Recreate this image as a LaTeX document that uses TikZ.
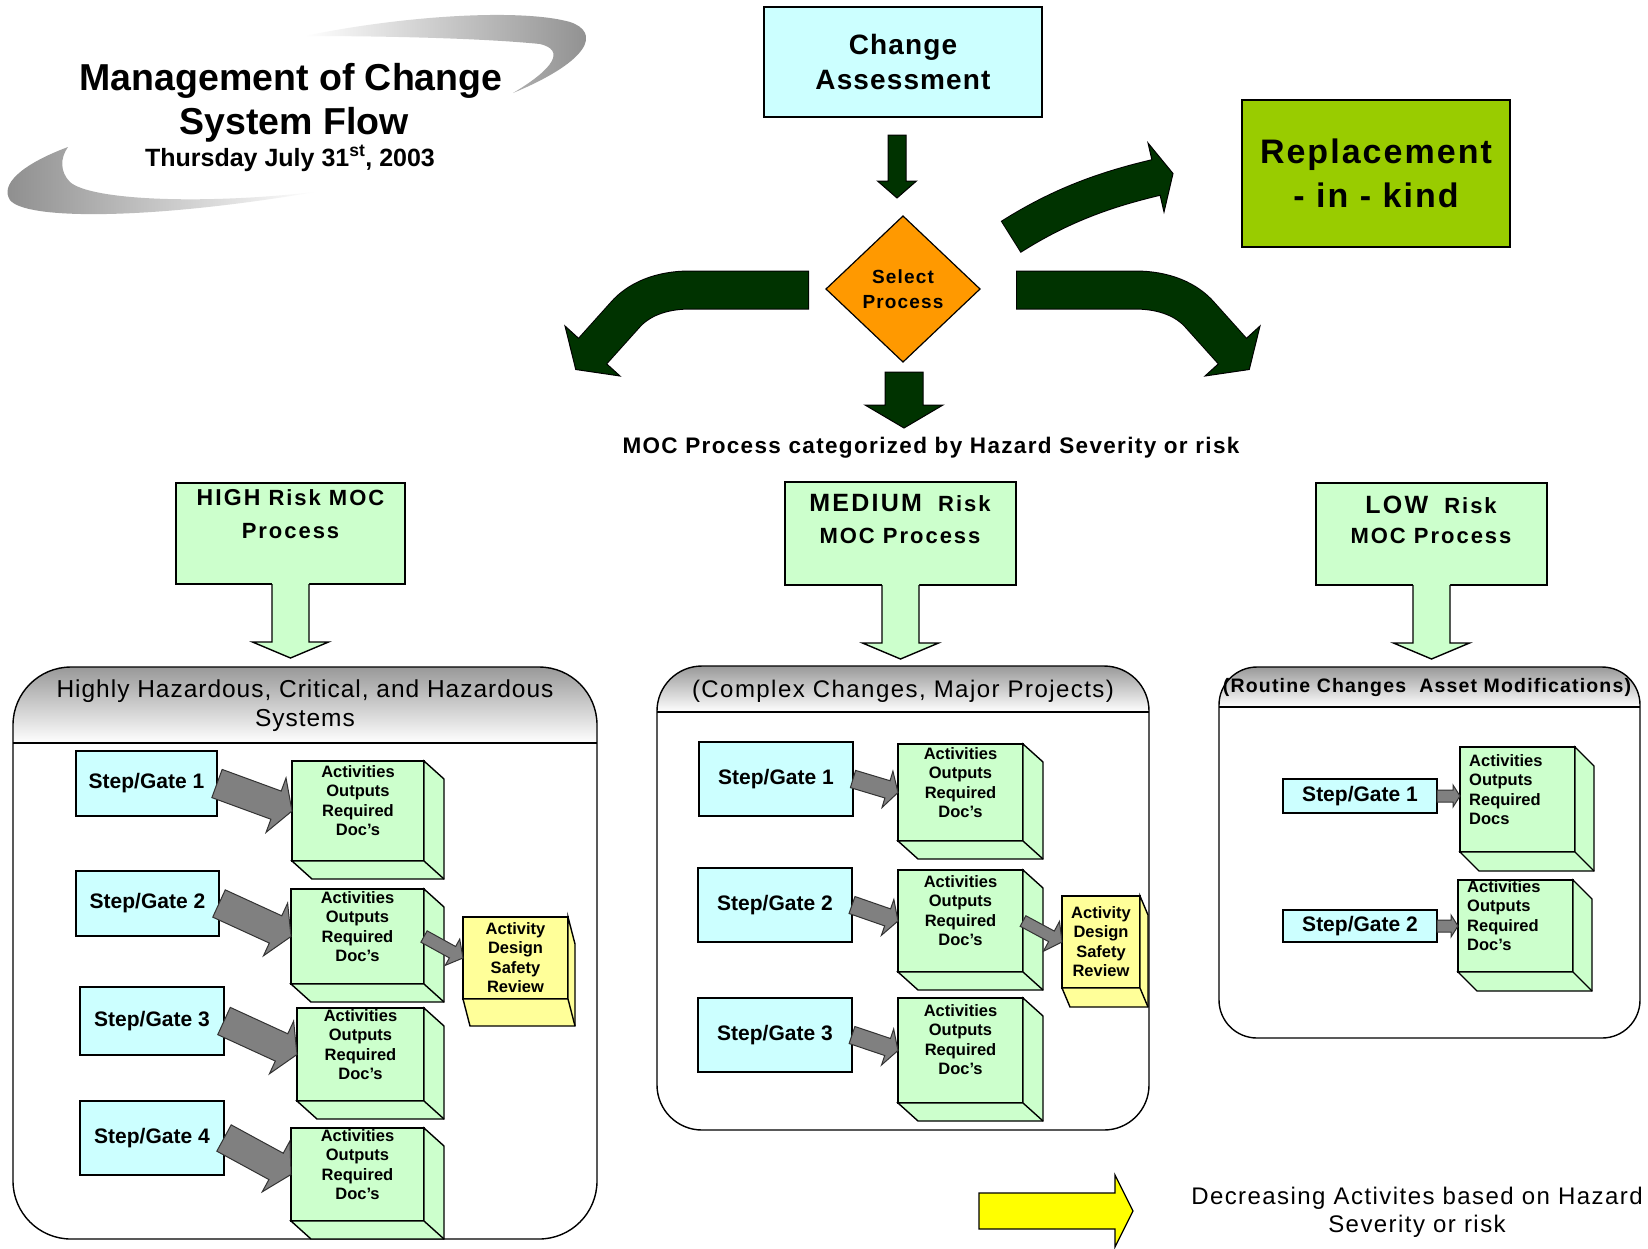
\documentclass[tikz,border=0pt]{standalone}
\usepackage{fontspec}
\setmainfont{Liberation Sans}
\newfontfamily\trkD{Liberation Sans}[LetterSpace=4]
\newfontfamily\trkA{Liberation Sans}[LetterSpace=6]
\newfontfamily\trkB{Liberation Sans}[LetterSpace=9]
\newfontfamily\trkC{Liberation Sans}[LetterSpace=12]
\usetikzlibrary{calc,shapes.geometric}
\definecolor{cyanbox}{HTML}{CCFFFF}
\definecolor{lgreen}{HTML}{CCFFCC}
\definecolor{lyellow}{HTML}{FFFF99}
\definecolor{selorange}{HTML}{FF9900}
\definecolor{rikgreen}{HTML}{99CC00}
\definecolor{dkgreen}{HTML}{003300}
\definecolor{arrgray}{HTML}{808080}
\definecolor{legyellow}{HTML}{FFFF00}
\newcommand\fs[2]{\fontsize{#1}{#2}\selectfont}
% straight block arrow: tail, tip, half shaft, half head, head length, style
\newcommand\blockarr[6]{%
  \coordinate (bah) at ($(#2)!#5!(#1)$);
  \draw[#6] ($(#1)!#3!90:(#2)$) -- ($(bah)!#3!90:(#2)$) -- ($(bah)!#4!90:(#2)$) -- (#2)
    -- ($(bah)!#4!-90:(#2)$) -- ($(bah)!#3!-90:(#2)$) -- ($(#1)!#3!-90:(#2)$) -- cycle;}
% rectangle node from corners
\newcommand\rbox[7]{\node[#1, anchor=north west, minimum width=#5pt-#3pt, minimum height=#6pt-#4pt] (#2) at (#3,#4) {#7};}
% 3D cube: name, x1,y1,x2,y2, dx,dy, colour
\newcommand\cube[8]{%
  \rbox{box, fill=#8}{#1}{#2}{#3}{#4}{#5}{}
  \draw[fill=#8, line width=1.4pt] (#1.north east) -- ++(#6,#7) -- ($(#1.south east)+(#6,#7)$) -- ($(#1.south west)+(#6,#7)$) -- (#1.south west) -- (#1.south east) -- cycle;
  \draw[line width=1.4pt] (#1.south east) -- ++(#6,#7);}
% container: x1,y1,x2,y2,sep,radius
\newcommand\container[6]{%
  \fill[white, rounded corners=#6pt] (#1,#2) rectangle (#3,#4);
  \begin{scope}
    \clip[rounded corners=#6pt] (#1,#2) rectangle (#3,#4);
    \shade[top color=black!40, bottom color=white] (#1,#2) rectangle (#3,#5);
  \end{scope}
  \draw[line width=1.4pt, rounded corners=#6pt] (#1,#2) rectangle (#3,#4);
  \draw[line width=1.4pt] (#1,#5) -- (#3,#5);}
% light green down arrow below a risk box
\newcommand\downarr[1]{%
  \fill[lgreen] ($(#1.south)+(-18.5,-1.5)$) -- ($(#1.south)+(-18.5,58)$) -- ($(#1.south)+(-38,58)$) -- ($(#1.south)+(0,74)$) -- ($(#1.south)+(38,58)$) -- ($(#1.south)+(18.5,58)$) -- ($(#1.south)+(18.5,-1.5)$) -- cycle;
  \draw[line width=1.4pt, line join=miter] ($(#1.south)+(-18.5,0)$) -- ($(#1.south)+(-18.5,58)$) -- ($(#1.south)+(-38,58)$) -- ($(#1.south)+(0,74)$) -- ($(#1.south)+(38,58)$) -- ($(#1.south)+(18.5,58)$) -- ($(#1.south)+(18.5,0)$);}
\begin{document}
\begin{tikzpicture}[x=1pt,y=-1pt,
  box/.style={draw=black, line width=1.4pt, inner sep=0pt, outer sep=0pt},
  stepbox/.style={box, fill=cyanbox, font=\bfseries\fs{21}{25}},
  acttxt/.style={inner sep=0pt, align=center, font=\bfseries\fs{16.5}{19.5}},
  dgarrow/.style={fill=dkgreen, draw=black, line width=1pt, line join=miter},
  grarrow/.style={fill=arrgray, draw=black!80, line width=1pt, line join=miter},
]
\useasboundingbox (0,0) rectangle (1648,1248);
\fill[white] (0,0) rectangle (1648,1248);

% ---- title swooshes
\shade[left color=white, right color=black!45] (305,36) .. controls (400,16) and (520,8) .. (570,22) .. controls (600,32) and (592,60) .. (513,93) .. controls (555,68) and (565,50) .. (540,44) .. controls (480,38) and (380,36) .. (305,36) -- cycle;
\shade[left color=black!45, right color=white] (68,147) .. controls (20,165) and (0,185) .. (10,200) .. controls (25,220) and (150,220) .. (315,192) .. controls (200,205) and (90,200) .. (70,182) .. controls (60,172) and (60,158) .. (68,147) -- cycle;

% ---- title
\node[anchor=base, font=\bfseries\fs{37.5}{44}] (ttl1) at (291,90) {Management of Change};
\node[anchor=base, font=\bfseries\fs{37.5}{44}] (ttl2) at (294,134) {System Flow};
\node[anchor=base, font=\bfseries\fs{25}{30}] (ttl3) at (290,166) {Thursday July 31\textsuperscript{st}, 2003};

% ---- top flow
\rbox{box, fill=cyanbox, align=center, font=\trkD\bfseries\fs{28}{35}}{ca}{764}{7}{1042}{117}{Change\\Assessment}
\node[draw=black, line width=1.2pt, fill=selorange, diamond, aspect=1.05, minimum width=154pt, minimum height=146pt, inner sep=0pt, outer sep=0pt, align=center, font=\trkA\bfseries\fs{19}{25}] (sel) at (903,289) {Select\\Process};
\rbox{box, fill=rikgreen, align=center, font=\trkA\bfseries\fs{34}{44}}{rik}{1242}{100}{1510}{247}{Replacement\\- in - kind}
\node[anchor=base, font=\trkA\bfseries\fs{22.5}{26}] (moc) at (931,453) {MOC Process categorized by Hazard Severity or risk};

\coordinate (a1s) at ($(ca.south)+(-6,18)$);
\coordinate (a1e) at ($(sel.north)+(-6,-18)$);
\blockarr{a1s}{a1e}{9pt}{19.5pt}{17pt}{dgarrow}
\coordinate (a2s) at ($(sel.south)+(1,10)$);
\coordinate (a2e) at ($(sel.south)+(1,66)$);
\blockarr{a2s}{a2e}{19pt}{39pt}{23pt}{dgarrow}

% left curved arrow
\coordinate (lcS) at (808,290);
\coordinate (lcE) at (590,354);
\draw[line width=39pt, black, line join=round] ($(lcS)+(1,0)$) -- (690,290) .. controls (660,290) and (638,300) .. (625,315) -- (lcE);
\draw[dgarrow] (565,326) -- (575.75,369.5) -- (620,376) -- cycle;
\draw[line width=37pt, dkgreen, line join=round] (lcS) -- (690,290) .. controls (660,290) and (638,300) .. (625,315) -- (lcE);
% right curved arrow
\coordinate (rcS) at (1017,290);
\coordinate (rcE) at (1235,354);
\draw[line width=39pt, black, line join=round] ($(rcS)+(-1,0)$) -- (1135,290) .. controls (1165,290) and (1187,300) .. (1200,315) -- (rcE);
\draw[dgarrow] (1260,326) -- (1249.25,369.5) -- (1205,376) -- cycle;
\draw[line width=37pt, dkgreen, line join=round] (rcS) -- (1135,290) .. controls (1165,290) and (1187,300) .. (1200,315) -- (rcE);
% upper right curved arrow
\coordinate (ucS) at (1011.5,236.5);
\coordinate (ucE) at (1159,176.8);
\draw[line width=37.5pt, black, line join=round] (1010.7,237) .. controls (1062,204.4) and (1107.5,189) .. (1156,177.5) -- (ucE);
\draw[dgarrow] (1148,143) -- (1173,173.5) -- (1164,212) -- cycle;
\draw[line width=35.5pt, dkgreen, line join=round] (ucS) .. controls (1062,204.4) and (1107.5,189) .. (1156,177.5) -- (ucE);

% ---- risk boxes
\rbox{box, fill=lgreen}{hi}{176}{483}{405}{584}{}
\node[anchor=north, inner sep=0pt, align=center, font=\trkB\bfseries\fs{22}{33}] (hit) at (290.5,489) {{\fs{23}{33}HIGH} Risk MOC\\Process};
\rbox{box, fill=lgreen}{me}{785}{482}{1016}{585}{}
\node[anchor=north, inner sep=0pt, align=center, font=\trkB\bfseries\fs{22}{32}] (met) at (900,494) {{\fs{25}{32}MEDIUM}~~Risk\\MOC Process};
\rbox{box, fill=lgreen}{lo}{1316}{483}{1547}{585}{}
\node[anchor=north, inner sep=0pt, align=center, font=\trkB\bfseries\fs{22}{30}] (lot) at (1431,496) {{\fs{25}{30}LOW}~~Risk\\MOC Process};
\downarr{hi}
\downarr{me}
\downarr{lo}

% ---- containers
\container{13}{667}{597}{1239}{743}{58}
\container{657}{666}{1149}{1130}{712}{45}
\container{1219}{667}{1640}{1038}{707}{38}
\node[anchor=north, inner sep=0pt, align=center, font=\trkD\fs{24.5}{29}] (hct) at (305,680) {Highly Hazardous, Critical, and Hazardous\\Systems};
\node[anchor=base, inner sep=0pt, font=\trkA\fs{24}{28}] (mct) at (903,697) {(Complex Changes, Major Projects)};
\node[anchor=base, inner sep=0pt, font=\trkA\bfseries\fs{19.5}{24}] (lct) at (1427,692) {(Routine Changes~~Asset Modifications)};

% ---- HIGH contents
\rbox{stepbox}{hs1}{76}{751}{217}{816}{Step/Gate 1}
\rbox{stepbox}{hs2}{76}{871}{219}{936}{Step/Gate 2}
\rbox{stepbox}{hs3}{80}{987}{224}{1055}{Step/Gate 3}
\rbox{stepbox}{hs4}{80}{1101}{224}{1175}{Step/Gate 4}
\cube{hb1}{292}{761}{424}{861}{20}{18}{lgreen}
\cube{hb2}{291}{889}{424}{984}{20}{18}{lgreen}
\cube{hb3}{297}{1008}{424}{1101}{20}{18}{lgreen}
\cube{hb4}{291}{1128}{424}{1221}{20}{18}{lgreen}
\cube{hy}{463}{917}{568}{999}{7}{27}{lyellow}
\node[acttxt, anchor=north] (hb1t) at ($(hb1.north)+(0,4)$) {Activities\\Outputs\\Required\\Doc’s};
\node[acttxt, anchor=north] (hb2t) at ($(hb2.north)+(0,2)$) {Activities\\Outputs\\Required\\Doc’s};
\node[acttxt, anchor=north] (hb3t) at ($(hb3.north)+(0,1)$) {Activities\\Outputs\\Required\\Doc’s};
\node[acttxt, anchor=north] (hb4t) at ($(hb4.north)+(0,1)$) {Activities\\Outputs\\Required\\Doc’s};
\node[acttxt, anchor=north] (hyt) at ($(hy.north)+(0,5)$) {Activity\\Design\\Safety\\Review};
\blockarr{hs1.east}{hb1.west}{15pt}{29pt}{17pt}{grarrow}
\blockarr{hs2.east}{hb2.west}{15pt}{29pt}{17pt}{grarrow}
\blockarr{hs3.east}{hb3.west}{15pt}{29pt}{17pt}{grarrow}
\blockarr{hs4.east}{hb4.west}{15pt}{29pt}{17pt}{grarrow}
\blockarr{hb2.east}{hy.west}{6.5pt}{15pt}{12pt}{grarrow}

% ---- MEDIUM contents
\rbox{stepbox}{ms1}{699}{742}{853}{816}{Step/Gate 1}
\rbox{stepbox}{ms2}{698}{868}{852}{942}{Step/Gate 2}
\rbox{stepbox}{ms3}{698}{998}{852}{1072}{Step/Gate 3}
\cube{mb1}{898}{744}{1023}{841}{20}{18}{lgreen}
\cube{mb2}{898}{870}{1023}{972}{20}{18}{lgreen}
\cube{mb3}{898}{998}{1023}{1103}{20}{18}{lgreen}
\cube{my}{1062}{896}{1140}{988}{8}{19}{lyellow}
\node[acttxt, anchor=north] (mb1t) at ($(mb1.north)+(0,3)$) {Activities\\Outputs\\Required\\Doc’s};
\node[acttxt, anchor=north] (mb2t) at ($(mb2.north)+(0,5)$) {Activities\\Outputs\\Required\\Doc’s};
\node[acttxt, anchor=north] (mb3t) at ($(mb3.north)+(0,6)$) {Activities\\Outputs\\Required\\Doc’s};
\node[acttxt, anchor=north] (myt) at ($(my.north)+(0,10)$) {Activity\\Design\\Safety\\Review};
\blockarr{ms1.east}{mb1.west}{9pt}{19pt}{11pt}{grarrow}
\blockarr{ms2.east}{mb2.west}{9pt}{19pt}{11pt}{grarrow}
\blockarr{ms3.east}{mb3.west}{9pt}{19pt}{11pt}{grarrow}
\blockarr{mb2.east}{my.west}{6pt}{17pt}{12pt}{grarrow}

% ---- LOW contents
\rbox{stepbox}{ls1}{1283}{779}{1437}{813}{Step/Gate 1}
\rbox{stepbox}{ls2}{1283}{910}{1437}{942}{Step/Gate 2}
\cube{lb1}{1460}{747}{1575}{852}{19}{19}{lgreen}
\cube{lb2}{1458}{880}{1573}{972}{19}{19}{lgreen}
\node[acttxt, align=left, anchor=north west] (lb1t) at ($(lb1.north west)+(9,7)$) {Activities\\Outputs\\Required\\Docs};
\node[acttxt, align=left, anchor=north west] (lb2t) at ($(lb2.north west)+(9,0)$) {Activities\\Outputs\\Required\\Doc’s};
\coordinate (lt1) at (lb1.west |- ls1.east);
\coordinate (lt2) at (lb2.west |- ls2.east);
\blockarr{ls1.east}{lt1}{6pt}{11pt}{7pt}{grarrow}
\blockarr{ls2.east}{lt2}{6pt}{11pt}{7pt}{grarrow}

% ---- legend
\coordinate (lgA) at (979,1211);
\coordinate (lgB) at (1133,1211);
\blockarr{lgA}{lgB}{18pt}{36pt}{18pt}{fill=legyellow, draw=black, line width=1.2pt, line join=miter}
\node[anchor=north, inner sep=0pt, align=center, font=\trkA\fs{24}{28}] (leg) at (1417,1187) {Decreasing Activites based on Hazard\\Severity or risk};
\end{tikzpicture}
\end{document}
